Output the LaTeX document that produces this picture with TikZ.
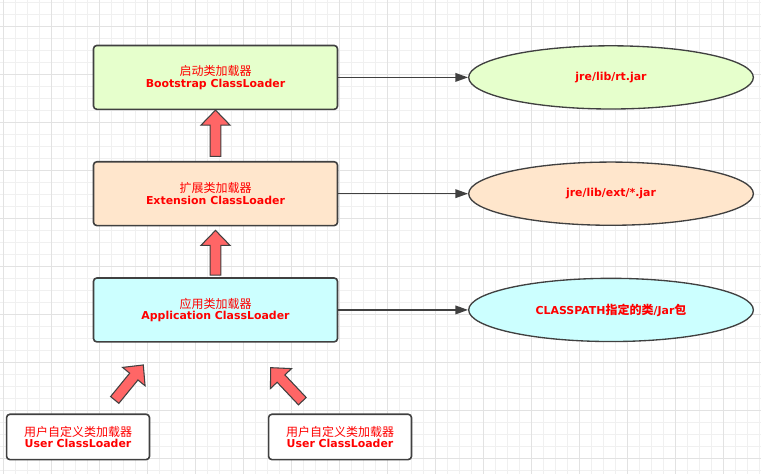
\documentclass[tikz,border=0pt]{standalone}
\usepackage{fontspec}
\setmainfont{DejaVu Sans}
\newfontfamily\cjk{Noto Sans CJK SC}
\usepackage{tikz}
\usetikzlibrary{shapes.geometric,positioning,calc,arrows.meta}

\definecolor{linegray}{HTML}{404040}
\definecolor{textred}{HTML}{FF0000}
\definecolor{arrowred}{HTML}{FF6666}
\definecolor{bootfill}{HTML}{E6FFCC}
\definecolor{extfill}{HTML}{FFE6CC}
\definecolor{appfill}{HTML}{CCFFFF}
\definecolor{gridminor}{HTML}{F0F0F0}
\definecolor{gridmajor}{HTML}{E2E2E2}

\newcommand{\zhtext}[1]{{\cjk\mdseries\fontsize{9pt}{8.6pt}\selectfont #1}}
\newcommand{\zhbold}[1]{{\cjk\fontsize{9pt}{8.6pt}\selectfont #1}}

\begin{document}
\begin{tikzpicture}[x=0.75pt, y=-0.75pt,
    font=\fontsize{8.2pt}{8.6pt}\selectfont\bfseries,
    loader/.style={draw=linegray, line width=1.2pt, rounded corners=2.5pt, minimum width=183pt, minimum height=47.9pt, align=center, text=textred},
    userbox/.style={loader, fill=white, minimum width=107.2pt, minimum height=34pt},
    jarpath/.style={draw=linegray, line width=1pt, ellipse, minimum width=213.5pt, minimum height=47.4pt, text=textred},
    link/.style={draw=linegray, line width=1.1pt, -{Triangle[length=9.5pt,width=6.5pt]}},
    fatarrow/.style={fill=arrowred, draw=linegray, line width=0.8pt, line join=miter,
        to path={($(\tikztostart)!4pt!90:(\tikztotarget)$)
            -- ($($(\tikztotarget)!11.25pt!(\tikztostart)$)!4pt!-90:(\tikztostart)$)
            -- ($($(\tikztotarget)!11.25pt!(\tikztostart)$)!10.9pt!-90:(\tikztostart)$)
            -- (\tikztotarget)
            -- ($($(\tikztotarget)!11.25pt!(\tikztostart)$)!10.9pt!90:(\tikztostart)$)
            -- ($($(\tikztotarget)!11.25pt!(\tikztostart)$)!4pt!90:(\tikztostart)$)
            -- ($(\tikztostart)!4pt!-90:(\tikztotarget)$) -- cycle}}]
    \useasboundingbox (0,0) rectangle (761,474);

    % Background grid
    \foreach \k in {0,...,63} \draw[gridminor, line width=0.75pt] ({3.3+12*\k},0) -- ++(0,474);
    \foreach \k in {0,...,39} \draw[gridminor, line width=0.75pt] (0,{2.3+12*\k}) -- ++(761,0);
    \foreach \k in {0,...,15} \draw[gridmajor, line width=0.75pt] ({3.3+48*\k},0) -- ++(0,474);
    \foreach \k in {0,...,9} \draw[gridmajor, line width=0.75pt] (0,{26.3+48*\k}) -- ++(761,0);

    % Class loaders
    \node[loader, fill=bootfill] (boot) at (215.5,77.4) {\zhtext{启动类加载器}\\Bootstrap ClassLoader};
    \node[loader, fill=extfill, below=38.1pt of boot] (ext) {\zhtext{扩展类加载器}\\Extension ClassLoader};
    \node[loader, fill=appfill, below=38.1pt of ext] (app) {\zhtext{应用类加载器}\\Application ClassLoader};
    \node[userbox, below=53.1pt of app, xshift=-103.1pt] (user1) {\zhtext{用户自定义类加载器}\\User ClassLoader};
    \node[userbox, below=53.1pt of app, xshift=93.4pt] (user2) {\zhtext{用户自定义类加载器}\\User ClassLoader};

    % Load paths
    \node[jarpath, fill=bootfill, right=97.3pt of boot] (rtjar) {jre/lib/rt.jar};
    \node[jarpath, fill=extfill, right=97.3pt of ext] (extjar) {jre/lib/ext/*.jar};
    \node[jarpath, fill=appfill, right=97.3pt of app] (cpjar) {CLASSPATH\zhbold{指定的类}/Jar\zhbold{包}};

    \draw[link] (boot) -- (rtjar);
    \draw[link] (ext) -- (extjar);
    \draw[link] (app) -- (cpjar);

    % Delegation arrows
    \coordinate (extTop) at ($(ext.north)+(0,-4.5)$);
    \coordinate (appTop) at ($(app.north)+(0,-2)$);
    \coordinate (extBottom) at ($(ext.south)+(0,4)$);
    \coordinate (user1Tail) at ($(user1.north)+(36.7,-13.5)$);
    \coordinate (user1Tip) at ($(app.south)+(-72.2,22.3)$);
    \coordinate (user2Tail) at ($(user2.north)+(-37.7,-12.3)$);
    \coordinate (user2Tip) at ($(app.south)+(55.2,25)$);

    \draw[fatarrow] (extTop) to (boot.south);
    \draw[fatarrow] (appTop) to (extBottom);
    \draw[fatarrow] (user1Tail) to (user1Tip);
    \draw[fatarrow] (user2Tail) to (user2Tip);
\end{tikzpicture}
\end{document}
